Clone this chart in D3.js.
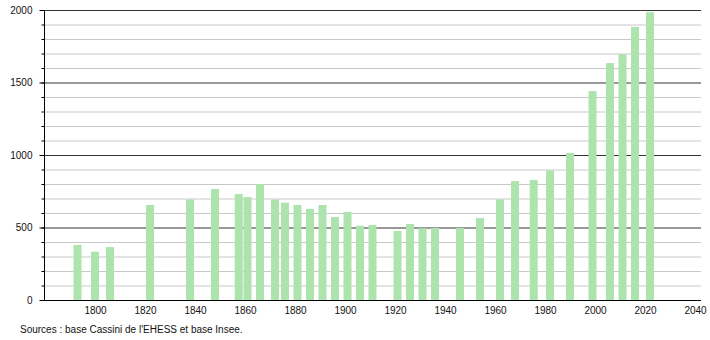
<!DOCTYPE html>
<html>
<head>
<meta charset="utf-8">
<script src="https://cdn.jsdelivr.net/npm/d3@7"></script>
<style>
  html, body { margin: 0; padding: 0; background: #fff; }
  svg { display: block; font-family: "Liberation Sans", Arial, sans-serif; }
</style>
</head>
<body>
<svg id="chart" width="710" height="340"></svg>
<script>
// Census years (bar positions) and population
const years = [1793, 1800, 1806, 1822, 1838, 1848, 1857.5, 1861, 1866, 1872, 1876, 1881, 1886, 1891, 1896, 1901, 1906, 1911, 1921, 1926, 1931, 1936, 1946, 1954, 1962, 1968, 1975.5, 1982, 1990, 1999, 2006, 2011, 2016, 2022];
const population = [380, 333, 365, 655, 694, 765, 731, 710, 800, 693, 671, 655, 628, 655, 572, 607, 512, 517, 476, 524, 495, 497, 497, 565, 694, 821, 828, 894, 1014, 1441, 1634, 1694, 1883, 1985];
const xTickLabels = [1800, 1820, 1840, 1860, 1880, 1900, 1920, 1940, 1960, 1980, 2000, 2020, 2040];
const yMajorTicks = [0, 500, 1000, 1500, 2000];
const yMinorTicks = d3.range(0, 2001, 100);
const sourceText = "Sources : base Cassini de l'EHESS et base Insee.";

const svg = d3.select("#chart");
const mLeft = 44, mRight = 701, mTop = 10, mBottom = 300;

const x = d3.scaleLinear().domain([1779.6, 2042.4]).range([mLeft, mRight]);
const y = d3.scaleLinear().domain([0, 2000]).range([mBottom, mTop]);

// minor gridlines
svg.append("g").selectAll("line").data(yMinorTicks.filter(v => v % 500 !== 0))
  .join("line")
  .attr("x1", mLeft).attr("x2", mRight)
  .attr("y1", d => y(d) + 0.5).attr("y2", d => y(d) + 0.5)
  .attr("stroke", "#c8c8c8").attr("stroke-width", 1);

// major gridlines
svg.append("g").selectAll("line").data(yMajorTicks.filter(v => v > 0))
  .join("line")
  .attr("x1", mLeft).attr("x2", mRight)
  .attr("y1", d => y(d) + 0.5).attr("y2", d => y(d) + 0.5)
  .attr("stroke", "#333").attr("stroke-width", 1);

// bars
const barW = 8;
svg.append("g").selectAll("rect").data(years.map((yr, i) => ({yr, v: population[i]})))
  .join("rect")
  .attr("x", d => x(d.yr) - barW / 2)
  .attr("width", barW)
  .attr("y", d => y(d.v))
  .attr("height", d => y(0) - y(d.v))
  .attr("fill", "#ade3ad");

// left axis: minor ticks
const yAxisMinor = d3.axisLeft(y).tickValues(yMinorTicks).tickSize(3).tickFormat("");
const gMinor = svg.append("g").attr("transform", `translate(${mLeft + 0.5},0)`).call(yAxisMinor);
gMinor.select(".domain").remove();
gMinor.selectAll("line").attr("stroke", "#000");

// left axis: major ticks and labels
const yAxis = d3.axisLeft(y).tickValues(yMajorTicks).tickSize(5).tickPadding(7).tickFormat(d3.format("d"));
const gY = svg.append("g").attr("transform", `translate(${mLeft + 0.5},0)`).call(yAxis);
gY.select(".domain").attr("d", `M0,${mTop}V${mBottom}`).attr("stroke", "#000");
gY.selectAll("line").attr("stroke", "#000");
gY.selectAll("text").attr("font-size", 10).attr("fill", "#111").attr("font-family", "Liberation Sans, Arial, sans-serif");

// bottom axis
const xAxis = d3.axisBottom(x).tickValues(xTickLabels).tickSize(0).tickPadding(6).tickFormat(d3.format("d"));
const gX = svg.append("g").attr("transform", `translate(0,${mBottom + 0.5})`).call(xAxis);
gX.select(".domain").attr("d", `M${mLeft},0H${mRight}`).attr("stroke", "#000");
gX.selectAll("text").attr("font-size", 10).attr("fill", "#111").attr("font-family", "Liberation Sans, Arial, sans-serif");

// source
svg.append("text")
  .attr("x", 20).attr("y", 333)
  .attr("font-size", 10)
  .attr("fill", "#111")
  .text(sourceText);
</script>
</body>
</html>
